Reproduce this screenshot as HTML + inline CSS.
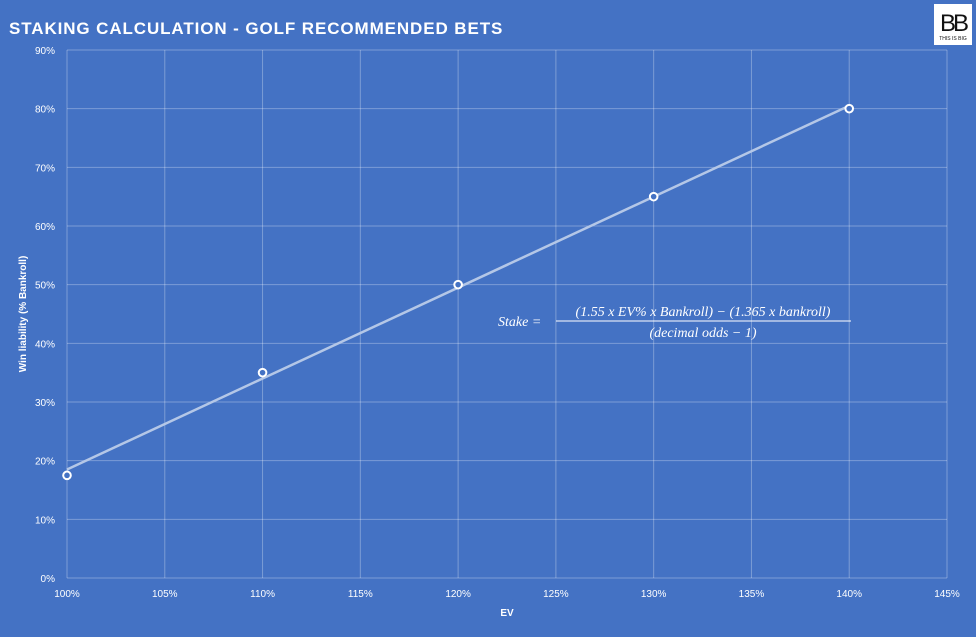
<!DOCTYPE html>
<html><head><meta charset="utf-8"><style>
body{margin:0;width:976px;height:637px;background:#4472C4;overflow:hidden;font-family:"Liberation Sans",sans-serif}
svg{display:block}
</style></head><body>
<svg id="chart" width="976" height="637">
<text x="9" y="34" fill="#fff" font-size="17" font-weight="bold" letter-spacing="0.9">STAKING  CALCULATION  - GOLF RECOMMENDED BETS</text>
<g>
<rect x="934" y="4" width="38" height="41" fill="#fff"/>
<text x="953" y="31" text-anchor="middle" font-size="24" fill="#111" letter-spacing="-3">BB</text>
<text x="953" y="40" text-anchor="middle" font-size="5" fill="#111">THIS IS BIG</text>
</g>
<g id="grid"></g>
<g id="marks"></g>
<text x="507" y="616" fill="#fff" font-size="10" font-weight="bold" text-anchor="middle">EV</text>
<text transform="translate(26,314) rotate(-90)" fill="#fff" font-size="10" font-weight="bold" text-anchor="middle">Win liability (% Bankroll)</text>
<g font-family="'Liberation Serif',serif" font-style="italic" fill="#fff" font-size="14">
<text x="498" y="326">Stake =</text>
<text x="703" y="316" text-anchor="middle">(1.55 x EV% x Bankroll) − (1.365 x bankroll)</text>
<line x1="556" y1="321" x2="851" y2="321" stroke="#fff" stroke-width="1"/>
<text x="703" y="337" text-anchor="middle">(decimal odds − 1)</text>
</g>
</svg>
<script>
const xTicks=[100,105,110,115,120,125,130,135,140,145];
const yTicks=[0,10,20,30,40,50,60,70,80,90];
const evValues=[100,110,120,130,140];
const liabilityValues=[17.5,35,50,65,80];
const X=v=>67+(v-100)*(880/45), Y=v=>578-v*(528/90);
const ns="http://www.w3.org/2000/svg";
const grid=document.getElementById('grid'), marks=document.getElementById('marks');
function mk(tag,attrs,parent){const e=document.createElementNS(ns,tag);for(const k in attrs)e.setAttribute(k,attrs[k]);parent.appendChild(e);return e;}
yTicks.forEach(t=>{
 const l=mk('line',{x1:67,x2:947,y1:Y(t),y2:Y(t),stroke:'#fff','stroke-opacity':0.3},grid);
 
 
 const tx=mk('text',{x:55,y:Y(t)+4,fill:'#fff','font-size':10,'text-anchor':'end'},grid);tx.textContent=t+'%';
 
 
});
xTicks.forEach(t=>{
 const l=mk('line',{x1:X(t),x2:X(t),y1:50,y2:578,stroke:'#fff','stroke-opacity':0.3},grid);
 
 
 const tx=mk('text',{x:X(t),y:597,fill:'#fff','font-size':10,'text-anchor':'middle'},grid);tx.textContent=t+'%';
 
 
});
const n=evValues.length,mx=evValues.reduce((a,b)=>a+b)/n,my=liabilityValues.reduce((a,b)=>a+b)/n;
let sxy=0,sxx=0;evValues.forEach((x,i)=>{sxy+=(x-mx)*(liabilityValues[i]-my);sxx+=(x-mx)**2});
const slope=sxy/sxx, f=x=>my+slope*(x-mx);
const x0=evValues[0],x1=evValues[n-1];
const tl=mk('line',{x1:X(x0),y1:Y(f(x0)),x2:X(x1),y2:Y(f(x1)),stroke:'#b4c7e7','stroke-width':2.5},marks);


evValues.forEach((x,i)=>{
 const c=mk('circle',{cx:X(x),cy:Y(liabilityValues[i]),r:3.8,fill:'#4472C4',stroke:'#fff','stroke-width':2},marks);
 
 
});
</script>
</body></html>
